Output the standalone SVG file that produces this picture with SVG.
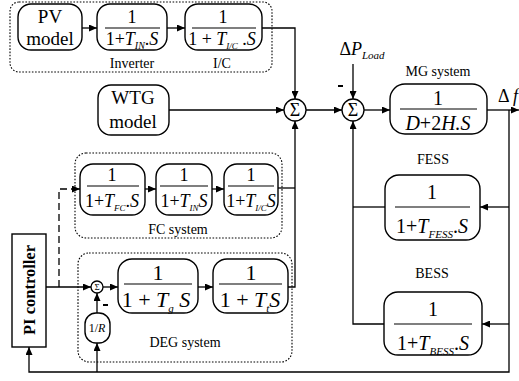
<svg xmlns="http://www.w3.org/2000/svg" width="519" height="381" viewBox="0 0 519 381">
  <style>
    text { font-family: "Liberation Serif", "Times New Roman", serif; fill: #000; text-anchor: middle; }
    .blk { fill: #fff; stroke: #000; stroke-width: 1.4; }
    .grp { fill: none; stroke: #000; stroke-width: 1.1; stroke-dasharray: 1.6 1.6; }
    .ln { fill: none; stroke: #000; stroke-width: 1.3; }
    .dash { fill: none; stroke: #000; stroke-width: 1.3; stroke-dasharray: 7 4; }
    .bar { stroke: #000; stroke-width: 1.1; }
    .lbl { font-size: 14px; }
    .nm { font-size: 19px; }
    .it { font-style: italic; }
    .sum { fill: #fff; stroke: #000; stroke-width: 1.3; }
  </style>
  <defs>
    <marker id="arr" markerWidth="9" markerHeight="7" refX="8" refY="3.5" orient="auto" markerUnits="userSpaceOnUse">
      <path d="M0,0 L8,3.5 L0,7 z" fill="#000"/>
    </marker>
  </defs>

  <!-- PV branch -->
  <g id="pv-system">
    <rect class="grp" x="10" y="2" width="262" height="70" rx="9"/>
    <text class="lbl" x="132" y="68">Inverter</text>
    <text class="lbl" x="222" y="68">I/C</text>
  </g>
  <g id="pv-model">
    <rect class="blk" x="18" y="4" width="64" height="46" rx="13"/>
    <text class="nm" x="50" y="23">PV</text>
    <text class="nm" x="50" y="45">model</text>
  </g>
  <g id="inverter">
    <rect class="blk" x="97" y="4" width="70" height="46" rx="13"/>
    <text font-size="18" x="132" y="23">1</text>
    <line class="bar" x1="105" y1="28" x2="160" y2="28"/>
    <text font-size="18" x="132" y="45">1+<tspan class="it">T</tspan><tspan class="it" font-size="10" dy="4">IN</tspan><tspan dy="-4">.</tspan><tspan class="it">S</tspan></text>
  </g>
  <g id="ic">
    <rect class="blk" x="185" y="4" width="77" height="46" rx="13"/>
    <text font-size="18" x="223" y="23">1</text>
    <line class="bar" x1="192" y1="28" x2="256" y2="28"/>
    <text font-size="18" x="222" y="45">1 + <tspan class="it">T</tspan><tspan class="it" font-size="9" dy="4">I/C</tspan><tspan dy="-4"> .</tspan><tspan class="it">S</tspan></text>
  </g>

  <!-- WTG -->
  <g id="wtg-model">
    <rect class="blk" x="98" y="85" width="71" height="50" rx="13"/>
    <text class="nm" x="133" y="104">WTG</text>
    <text class="nm" x="133" y="128">model</text>
  </g>

  <!-- summing junctions -->
  <g id="sum1">
    <circle class="sum" cx="295" cy="110" r="11"/>
    <text font-size="18" x="295" y="116">Σ</text>
  </g>
  <g id="sum2">
    <circle class="sum" cx="353" cy="110" r="11"/>
    <text font-size="18" x="353" y="116">Σ</text>
  </g>

  <!-- MG system -->
  <g id="mg-system">
    <text class="lbl" x="438" y="76">MG system</text>
    <rect class="blk" x="390" y="84" width="97" height="50" rx="15"/>
    <text font-size="20" x="438" y="105">1</text>
    <line class="bar" x1="400" y1="109" x2="477" y2="109"/>
    <text font-size="20" class="it" x="438" y="130">D<tspan font-style="normal">+2</tspan>H.S</text>
  </g>

  <!-- storage -->
  <g id="fess">
    <text class="lbl" x="433" y="164">FESS</text>
    <rect class="blk" x="385" y="175" width="95" height="65" rx="14"/>
    <text font-size="20" x="432" y="199">1</text>
    <line class="bar" x1="395" y1="207" x2="470" y2="207"/>
    <text font-size="20" x="432" y="233">1+<tspan class="it">T</tspan><tspan class="it" font-size="11" dy="5">FESS</tspan><tspan dy="-5">.</tspan><tspan class="it">S</tspan></text>
  </g>
  <g id="bess">
    <text class="lbl" x="432" y="278">BESS</text>
    <rect class="blk" x="384" y="292" width="98" height="63" rx="14"/>
    <text font-size="20" x="433" y="316">1</text>
    <line class="bar" x1="394" y1="324" x2="472" y2="324"/>
    <text font-size="20" x="433" y="350">1+<tspan class="it">T</tspan><tspan class="it" font-size="11" dy="5">BESS</tspan><tspan dy="-5">.</tspan><tspan class="it">S</tspan></text>
  </g>

  <!-- FC system -->
  <g id="fc-system">
    <rect class="grp" x="75" y="153" width="207" height="85" rx="11"/>
    <text class="lbl" x="178" y="234">FC system</text>
  </g>
  <g id="fc">
    <rect class="blk" x="80" y="164" width="65" height="51" rx="13"/>
    <text font-size="18" x="112" y="181">1</text>
    <line class="bar" x1="87" y1="186" x2="139" y2="186"/>
    <text font-size="18" x="112" y="207">1+<tspan class="it">T</tspan><tspan class="it" font-size="9" dy="4">FC</tspan><tspan dy="-4">.</tspan><tspan class="it">S</tspan></text>
  </g>
  <g id="fc-inverter">
    <rect class="blk" x="156" y="164" width="56" height="51" rx="13"/>
    <text font-size="18" x="184" y="181">1</text>
    <line class="bar" x1="160" y1="186" x2="208" y2="186"/>
    <text font-size="18" x="184" y="207">1+<tspan class="it">T</tspan><tspan class="it" font-size="9" dy="4">IN</tspan><tspan class="it" dy="-4">S</tspan></text>
  </g>
  <g id="fc-ic">
    <rect class="blk" x="224" y="164" width="54" height="51" rx="13"/>
    <text font-size="18" x="251" y="181">1</text>
    <line class="bar" x1="228" y1="186" x2="274" y2="186"/>
    <text font-size="18" x="251" y="207">1+<tspan class="it">T</tspan><tspan class="it" font-size="9" dy="4">I/C</tspan><tspan class="it" dy="-4">S</tspan></text>
  </g>

  <!-- DEG system -->
  <g id="deg-system">
    <rect class="grp" x="78" y="253" width="214" height="109" rx="11"/>
    <text class="lbl" x="185" y="347">DEG system</text>
  </g>
  <g id="sum3">
    <circle class="sum" cx="97" cy="287" r="6"/>
    <text font-size="9" x="97" y="290">Σ</text>
  </g>
  <g id="governor">
    <rect class="blk" x="118" y="259" width="80" height="54" rx="14"/>
    <text font-size="22" x="158" y="280">1</text>
    <line class="bar" x1="124" y1="284" x2="192" y2="284"/>
    <text font-size="22" x="156" y="307">1 + <tspan class="it">T</tspan><tspan class="it" font-size="11" dy="5">g</tspan><tspan class="it" dy="-5"> S</tspan></text>
  </g>
  <g id="turbine">
    <rect class="blk" x="213" y="259" width="75" height="54" rx="14"/>
    <text font-size="22" x="251" y="280">1</text>
    <line class="bar" x1="219" y1="284" x2="282" y2="284"/>
    <text font-size="22" x="250" y="307">1 + <tspan class="it">T</tspan><tspan class="it" font-size="11" dy="5">t</tspan><tspan class="it" dy="-5">S</tspan></text>
  </g>
  <g id="droop">
    <rect class="blk" x="85" y="313" width="25" height="30" rx="11"/>
    <text font-size="12" x="97" y="332">1/<tspan class="it">R</tspan></text>
  </g>

  <!-- PI controller -->
  <g id="pi-controller">
    <rect class="blk" x="12" y="234" width="34" height="113"/>
    <text font-size="16.5" font-weight="bold" transform="translate(35 290) rotate(-90)">PI controller</text>
  </g>

  <!-- signs and signal names -->
  <g id="signals">
    <text font-size="18" x="362" y="55"><tspan>Δ</tspan><tspan class="it">P</tspan><tspan class="it" font-size="11" dy="4">Load</tspan></text>
    <text font-size="18" x="508" y="102">Δ <tspan class="it">f</tspan></text>
    <rect x="338" y="85" width="5" height="2" fill="#000"/>
    <rect x="103" y="304" width="5" height="2" fill="#000"/>
  </g>

  <!-- connectors -->
  <g id="connectors">
    <line class="ln" x1="82" y1="28" x2="97" y2="28" marker-end="url(#arr)"/>
    <line class="ln" x1="167" y1="28" x2="185" y2="28" marker-end="url(#arr)"/>
    <path class="ln" d="M262,28 H295 V99" marker-end="url(#arr)"/>
    <line class="ln" x1="169" y1="110" x2="284" y2="110" marker-end="url(#arr)"/>
    <line class="ln" x1="306" y1="110" x2="342" y2="110" marker-end="url(#arr)"/>
    <line class="ln" x1="353" y1="64" x2="353" y2="99" marker-end="url(#arr)"/>
    <line class="ln" x1="364" y1="110" x2="390" y2="110" marker-end="url(#arr)"/>
    <line class="ln" x1="487" y1="110" x2="519" y2="110" marker-end="url(#arr)"/>
    <path class="ln" d="M509,110 V372 H29 V347" marker-end="url(#arr)"/>
    <line class="ln" x1="509" y1="207" x2="480" y2="207" marker-end="url(#arr)"/>
    <line class="ln" x1="509" y1="324" x2="482" y2="324" marker-end="url(#arr)"/>
    <line class="ln" x1="385" y1="207" x2="353" y2="207"/>
    <path class="ln" d="M384,324 H353 V121" marker-end="url(#arr)"/>
    <line class="ln" x1="145" y1="189" x2="156" y2="189" marker-end="url(#arr)"/>
    <line class="ln" x1="212" y1="189" x2="224" y2="189" marker-end="url(#arr)"/>
    <line class="ln" x1="278" y1="188" x2="295" y2="188"/>
    <path class="ln" d="M288,287 H295 V121" marker-end="url(#arr)"/>
    <line class="ln" x1="46" y1="287" x2="91" y2="287" marker-end="url(#arr)"/>
    <line class="ln" x1="103" y1="287" x2="118" y2="287" marker-end="url(#arr)"/>
    <line class="ln" x1="198" y1="287" x2="213" y2="287" marker-end="url(#arr)"/>
    <line class="ln" x1="97" y1="313" x2="97" y2="293" marker-end="url(#arr)"/>
    <line class="ln" x1="97" y1="372" x2="97" y2="343" marker-end="url(#arr)"/>
    <path class="dash" d="M59,287 V189 H72"/>
    <line class="ln" x1="72" y1="189" x2="80" y2="189" marker-end="url(#arr)"/>
  </g>
</svg>
